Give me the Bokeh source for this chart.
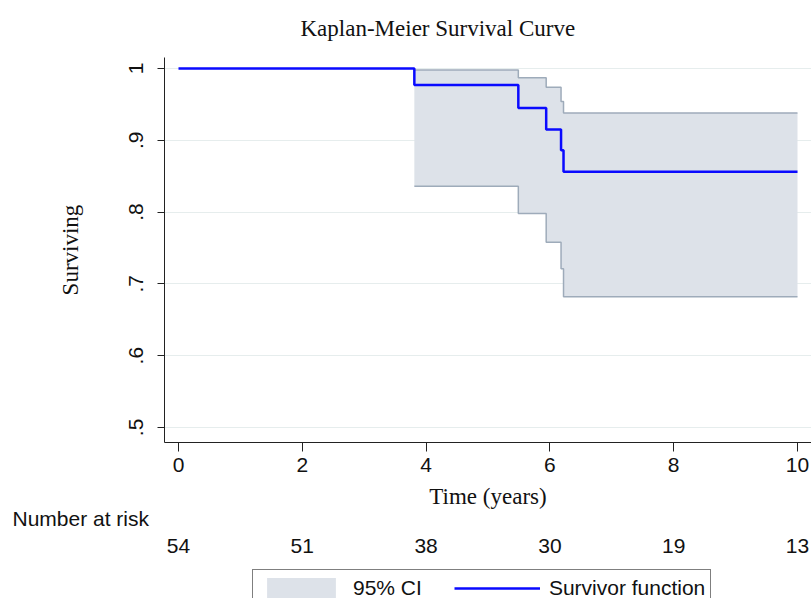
from bokeh.plotting import figure
from bokeh.layouts import column
from bokeh.models import FixedTicker, LinearAxis, Legend, LegendItem, Title, Range1d
from bokeh.embed import file_html
from bokeh.resources import INLINE

# ---- data ----
step_times = [0.0, 3.81, 5.49, 5.94, 6.18, 6.22, 10.0]
survival = [1.0, 0.977, 0.945, 0.915, 0.886, 0.856, 0.856]
ci_times = [3.81, 5.49, 5.94, 6.18, 6.22, 10.0]
ci_upper = [0.998, 0.987, 0.974, 0.954, 0.938, 0.938]
ci_lower = [0.836, 0.798, 0.758, 0.721, 0.682, 0.682]
x_ticks = [0, 2, 4, 6, 8, 10]
y_ticks = [0.5, 0.6, 0.7, 0.8, 0.9, 1.0]
y_tick_labels = [".5", ".6", ".7", ".8", ".9", "1"]
risk_times = [0, 2, 4, 6, 8, 10]
number_at_risk = [54, 51, 38, 30, 19, 13]

SANS = "Liberation Sans"
SERIF = "Liberation Serif"
BAND_FILL = "#dde2e9"
BAND_LINE = "#9eabba"
SURV_COLOR = "#0a0aff"

p = figure(width=811, height=561, output_backend="svg", toolbar_location=None,
           x_range=Range1d(-0.226, 10.226), y_range=Range1d(0.479, 1.0153),
           min_border_left=164, min_border_right=0, min_border_top=57,
           min_border_bottom=119, outline_line_color=None,
           background_fill_color="white", border_fill_color="white")

# title
p.title.text = "Kaplan-Meier Survival Curve"
p.title.text_font = SERIF
p.title.text_font_size = "23px"
p.title.text_font_style = "normal"
p.title.text_color = "#111111"
p.title.align = "left"
p.title.offset = 136
p.title.vertical_align = "top"
p.title.standoff = 29

# CI band
p.varea_step(x=ci_times, y1=ci_lower, y2=ci_upper, step_mode="after",
             fill_color=BAND_FILL)
p.step(ci_times, ci_upper, mode="after", line_color=BAND_LINE, line_width=1.5)
p.step(ci_times, ci_lower, mode="after", line_color=BAND_LINE, line_width=1.5)

# survivor function
p.step(step_times, survival, mode="after", line_color=SURV_COLOR, line_width=2.5)

# grid
p.xgrid.visible = False
p.ygrid.ticker = FixedTicker(ticks=y_ticks)
p.ygrid.grid_line_color = "#e6eded"
p.ygrid.grid_line_width = 1

# axes
for ax in (p.xaxis[0], p.yaxis[0]):
    ax.axis_line_color = "#222222"
    ax.major_tick_line_color = "#222222"
    ax.minor_tick_line_color = None
    ax.major_tick_in = 0
    ax.major_label_text_font = SANS
    ax.major_label_text_font_size = "21px"
    ax.major_label_text_color = "#111111"
    ax.axis_label_text_font = SERIF
    ax.axis_label_text_font_size = "23px"
    ax.axis_label_text_font_style = "normal"
    ax.axis_label_text_color = "#111111"

p.xaxis.ticker = FixedTicker(ticks=x_ticks)
p.xaxis.major_tick_out = 9
p.xaxis.major_label_standoff = 6
p.xaxis.axis_label = "Time (years)"
p.xaxis.axis_label_standoff = 9

p.yaxis.ticker = FixedTicker(ticks=y_ticks)
p.yaxis.major_label_overrides = dict(zip(y_ticks, y_tick_labels))
p.yaxis.major_label_orientation = "vertical"
p.yaxis.major_tick_out = 7
p.yaxis.major_label_standoff = 14
p.yaxis.axis_label = "Surviving"
p.yaxis.axis_label_standoff = 44

# number at risk
risk_title = Title(text="Number at risk", align="left", offset=-152,
                   vertical_align="top",
                   text_font=SANS, text_font_size="21px",
                   text_font_style="normal", text_color="#111111", standoff=-10)
p.add_layout(risk_title, "below")

risk_axis = LinearAxis(ticker=FixedTicker(ticks=risk_times),
                       major_label_overrides={t: str(n) for t, n in zip(risk_times, number_at_risk)},
                       axis_line_color=None, major_tick_line_color=None,
                       minor_tick_line_color=None, major_tick_out=0, major_tick_in=0,
                       major_label_standoff=12,
                       major_label_text_font=SANS, major_label_text_font_size="21px",
                       major_label_text_color="#111111")
p.add_layout(risk_axis, "below")

# legend strip underneath (hidden renderers carry the legend styles)
pl = figure(width=811, height=37, output_backend="svg", toolbar_location=None,
            x_range=Range1d(0, 1), y_range=Range1d(0, 1),
            x_axis_location=None, y_axis_location=None, min_border=0,
            outline_line_color=None, background_fill_color="white",
            border_fill_color="white")
pl.xgrid.visible = False
pl.ygrid.visible = False
leg_band = pl.varea_step(x=ci_times, y1=ci_lower, y2=ci_upper, step_mode="after",
                         fill_color=BAND_FILL, visible=False)
leg_surv = pl.step(step_times, survival, mode="after", line_color=SURV_COLOR,
                   line_width=2.5, visible=False)
legend = Legend(items=[LegendItem(label="95% CI", renderers=[leg_band]),
                       LegendItem(label="Survivor function", renderers=[leg_surv])],
                orientation="horizontal", location=(88, -9),
                border_line_color="black", border_line_width=1,
                label_text_font=SANS, label_text_font_size="21px",
                label_text_color="#111111",
                glyph_width=86, glyph_height=26, label_standoff=9,
                spacing=32, padding=5, margin=0,
                inactive_fill_alpha=0.0)
pl.add_layout(legend)

layout = column(p, pl, spacing=0)
open("out.html", "w").write(file_html(layout, INLINE))
